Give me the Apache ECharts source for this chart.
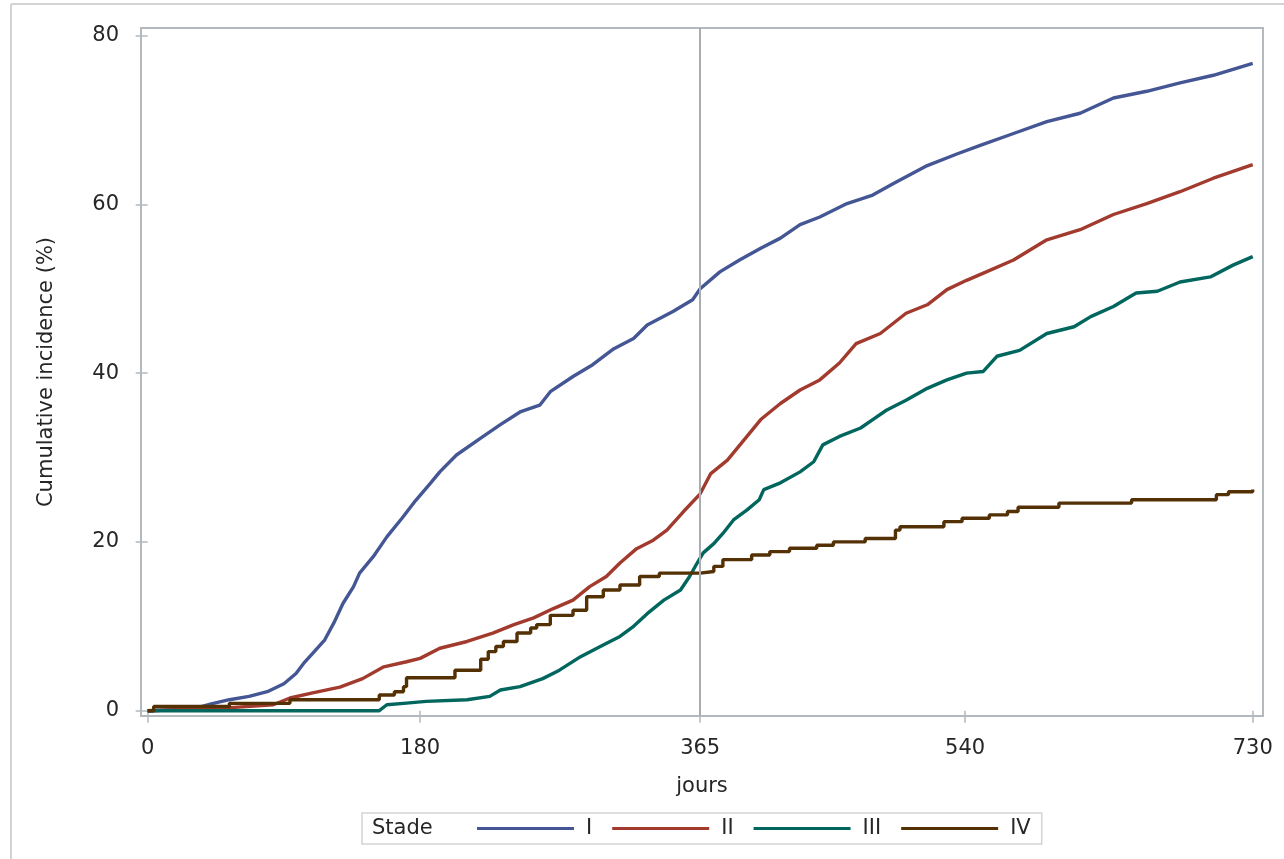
<!DOCTYPE html>
<html>
<head>
<meta charset="utf-8">
<script src="https://cdn.jsdelivr.net/npm/echarts@6/dist/echarts.min.js"></script>
<style>
html,body{margin:0;padding:0;background:#fff;}
#chart{width:1284px;height:859px;}
</style>
</head>
<body>
<div id="chart"></div>
<script>
// ---- data ----
var seriesNames = ['I', 'II', 'III', 'IV'];
var xTicks = [0, 180, 365, 540, 730];
var yTicks = [0, 20, 40, 60, 80];
var refDay = 365;

var stadeI = [[0,0],[30,0.2],[42,0.8],[54,1.3],[67,1.7],[79,2.25],[90,3.2],[98,4.4],[103,5.6],[109,6.8],[117,8.4],[123,10.4],[129,12.7],[136,14.7],[140,16.3],[149,18.25],[158,20.6],[168,22.8],[177,24.9],[187,27.0],[193,28.3],[204,30.3],[220,32.3],[233,33.9],[246,35.4],[259,36.2],[266,37.8],[281,39.6],[294,41.0],[308,42.9],[321,44.1],[330,45.7],[347,47.3],[360,48.7],[365,50.0],[378,52.0],[391,53.4],[405,54.8],[418,56.0],[431,57.6],[444,58.5],[462,60.1],[479,61.1],[493,62.5],[515,64.6],[535,66.0],[550,67.0],[572,68.4],[594,69.8],[616,70.8],[638,72.6],[660,73.4],[682,74.4],[704,75.3],[730,76.7]];

var stadeII = [[0,0],[50,0.3],[83,0.7],[94,1.5],[109,2.1],[127,2.8],[142,3.8],[156,5.2],[171,5.8],[180,6.2],[193,7.4],[211,8.2],[228,9.2],[242,10.2],[255,11.0],[268,12.1],[281,13.1],[292,14.7],[303,15.9],[312,17.5],[323,19.2],[334,20.2],[343,21.4],[354,23.6],[365,25.7],[372,28.1],[383,29.7],[394,32.1],[405,34.5],[418,36.4],[431,38.0],[444,39.2],[457,41.2],[468,43.5],[484,44.7],[501,47.1],[515,48.1],[528,49.9],[541,51.0],[554,52.0],[572,53.4],[594,55.8],[616,57.0],[638,58.8],[660,60.1],[682,61.5],[704,63.1],[730,64.7]];

var stadeIII = [[0,0],[153,0],[158,0.7],[171,0.9],[184,1.1],[211,1.3],[226,1.7],[233,2.45],[246,2.85],[261,3.8],[272,4.8],[286,6.4],[299,7.6],[312,8.8],[321,10.0],[330,11.5],[341,13.1],[352,14.3],[358,15.9],[363,17.5],[367,18.7],[374,19.8],[380,21.0],[387,22.6],[396,23.8],[404,25.0],[407,26.2],[418,27.0],[431,28.3],[440,29.5],[446,31.5],[457,32.5],[471,33.5],[479,34.5],[488,35.6],[501,36.8],[515,38.2],[528,39.2],[541,40.0],[552,40.2],[561,42.0],[576,42.7],[594,44.7],[612,45.5],[623,46.7],[638,47.9],[653,49.5],[667,49.7],[682,50.8],[702,51.4],[717,52.8],[730,53.8]];

var stadeIV = [[0,0],[4,0.5],[54,0.87],[94,1.3],[153,1.86],[163,2.25],[169,2.85],[171,3.9],[203,4.8],[220,6.1],[225,7.0],[230,7.6],[235,8.2],[244,9.2],[253,9.8],[257,10.2],[266,11.3],[281,11.9],[290,13.5],[301,14.3],[312,14.9],[325,15.9],[338,16.3],[365,16.5],[374,17.1],[380,17.9],[399,18.45],[411,18.85],[424,19.25],[442,19.6],[453,20.0],[474,20.4],[494,21.4],[497,21.8],[526,22.4],[538,22.8],[556,23.2],[568,23.6],[575,24.1],[602,24.6],[650,25.0],[706,25.6],[714,25.95],[730,26.2]];

var colors = ['#445694', '#A23A2E', '#01665E', '#543005'];
var FONT = 'DejaVu Sans';
var TXT = '#262626';
var AXC = '#b4b9be';

var chart = echarts.init(document.getElementById('chart'), null, {renderer: 'canvas'});

function mkSeries(name, data, color, step) {
  return {
    name: name,
    type: 'line',
    data: data,
    symbol: 'none',
    showSymbol: false,
    step: step ? 'end' : false,
    lineStyle: {color: color, width: 3.4},
    itemStyle: {color: color},
    emphasis: {disabled: true},
    animation: false
  };
}

var series = [
  mkSeries(seriesNames[0], stadeI, colors[0], false),
  mkSeries(seriesNames[1], stadeII, colors[1], false),
  mkSeries(seriesNames[2], stadeIII, colors[2], false),
  mkSeries(seriesNames[3], stadeIV, colors[3], true)
];
series[0].markLine = {
  symbol: 'none',
  silent: true,
  animation: false,
  label: {show: false},
  lineStyle: {color: '#a9adb1', width: 2, type: 'solid'},
  data: [{xAxis: refDay}]
};

var legendData = seriesNames.map(function (n, i) {
  return {name: n, icon: 'rect', itemStyle: {color: colors[i]}};
});

var option = {
  backgroundColor: '#fff',
  animation: false,
  textStyle: {fontFamily: FONT},
  grid: {
    left: 141, top: 28, width: 1122, height: 688,
    show: true, borderColor: AXC, borderWidth: 2, backgroundColor: 'transparent'
  },
  xAxis: {
    type: 'value',
    min: -4.4, max: 736.8,
    name: 'jours',
    nameLocation: 'middle',
    nameGap: 60,
    nameTextStyle: {fontFamily: FONT, fontSize: 21, color: TXT},
    axisLine: {show: false},
    splitLine: {show: false},
    axisTick: {show: true, inside: false, length: 12, customValues: xTicks, lineStyle: {color: AXC, width: 1.5}},
    axisLabel: {show: true, customValues: xTicks, margin: 22, fontFamily: FONT, fontSize: 21, color: TXT}
  },
  yAxis: {
    type: 'value',
    min: -0.63, max: 80.9,
    name: 'Cumulative incidence (%)',
    nameLocation: 'middle',
    nameGap: 84,
    nameTextStyle: {fontFamily: FONT, fontSize: 21, color: TXT},
    axisLine: {show: false},
    splitLine: {show: false},
    axisTick: {show: true, inside: false, length: 12, customValues: yTicks, lineStyle: {color: AXC, width: 1.5}},
    axisLabel: {show: true, customValues: yTicks, margin: 22, fontFamily: FONT, fontSize: 21, color: TXT}
  },
  legend: {
    show: true,
    data: legendData,
    left: 362, top: 813,
    orient: 'horizontal',
    padding: [5, 11, 5, 115],
    itemWidth: 97, itemHeight: 3,
    itemGap: 20,
    borderColor: '#d3d3d3', borderWidth: 1.5,
    selectedMode: false,
    textStyle: {fontFamily: FONT, fontSize: 21, color: TXT, padding: [0, 0, 0, 7]}
  },
  graphic: [
    {type: 'line', silent: true, shape: {x1: 11, y1: 4, x2: 1284, y2: 4}, style: {stroke: '#d3d3d3', lineWidth: 2}},
    {type: 'line', silent: true, shape: {x1: 11, y1: 4, x2: 11, y2: 859}, style: {stroke: '#d3d3d3', lineWidth: 2}},
    {type: 'text', silent: true, left: 372, top: 818, style: {text: 'Stade', fontFamily: FONT, fontSize: 21, fill: TXT}}
  ],
  series: series
};
chart.setOption(option);
</script>
</body>
</html>
